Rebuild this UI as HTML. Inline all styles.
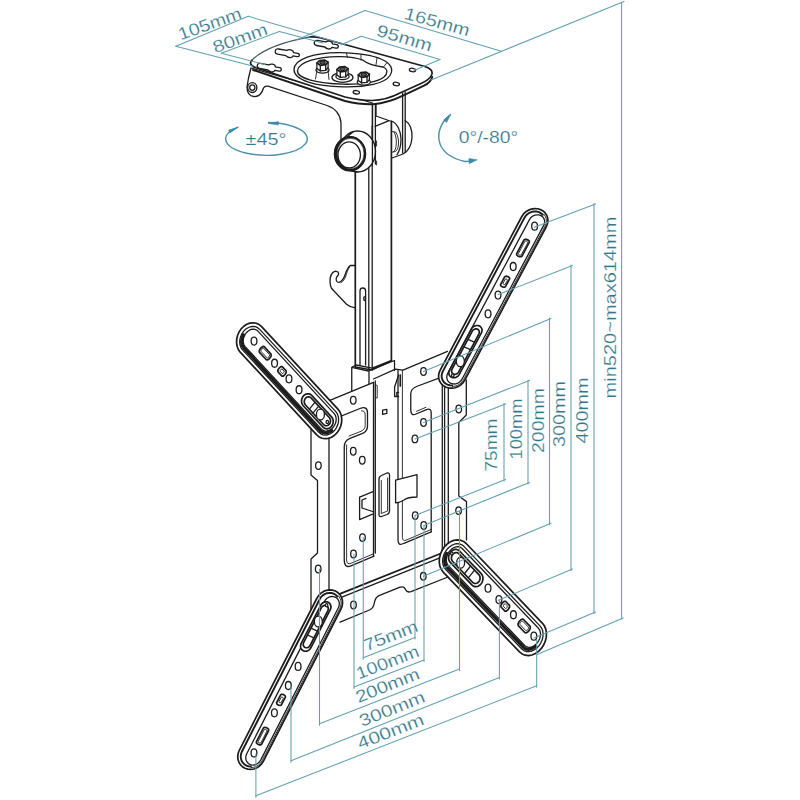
<!DOCTYPE html>
<html><head><meta charset="utf-8"><title>Ceiling mount dimensions</title>
<style>
html,body{margin:0;padding:0;background:#fff;}
body{width:800px;height:800px;overflow:hidden;}
svg{display:block;}
.k{fill:none;stroke:#1c1c1c;stroke-width:1.3;stroke-linejoin:round;stroke-linecap:round;}
.k2{fill:none;stroke:#1c1c1c;stroke-width:1.7;stroke-linejoin:round;stroke-linecap:round;}
.kt{fill:none;stroke:#1c1c1c;stroke-width:0.9;stroke-linejoin:round;stroke-linecap:round;}
.kb{fill:none;stroke:#1c1c1c;stroke-width:2.6;stroke-linejoin:round;stroke-linecap:round;}
.kd{fill:#555;stroke:#1c1c1c;stroke-width:1.1;}
.kb3{fill:none;stroke:#1c1c1c;stroke-width:3.2;stroke-linejoin:round;stroke-linecap:round;}
.kb2{fill:none;stroke:#1c1c1c;stroke-width:1.9;stroke-linejoin:round;stroke-linecap:round;}
.kf{fill:#1c1c1c;stroke:#1c1c1c;stroke-width:0.6;}
.kg{fill:none;stroke:#3d5560;stroke-width:1.1;stroke-linecap:round;}
.wf{fill:#fff;}
.hf{fill:#fff;}
.b{fill:none;stroke:#62a0b1;stroke-width:1.05;stroke-linecap:round;}
.ba{fill:none;stroke:#4a93a8;stroke-width:1.45;stroke-linecap:round;}
.bf{fill:#3f8ba1;stroke:#3f8ba1;stroke-width:0.5;stroke-linejoin:round;}
.t{font-family:"Liberation Sans",sans-serif;fill:#33788a;stroke:#fff;stroke-width:0.2;}
</style></head><body>
<svg width="800" height="800" viewBox="0 0 800 800">
<rect width="800" height="800" fill="#ffffff"/>
<g id="ceiling">
<path class="k" d="M402.6,93 L402.6,153 M405.2,92 L405.2,152.5"/>
<path class="k" d="M405.2,120.5 C410.5,124 412.3,131 412,137.5 C411.5,146 407.5,151.5 403,154 L392,158"/>
<path class="k" d="M391.5,121 C397,123 401,131 401,139 C401,147 398.5,152.5 397,154.6"/>
<path class="kt" d="M392,131.5 L396,132.3 C398,136 398.8,140 398.5,144 C398.3,148 397,151 395,151.6 L392,152.2 M394.2,132 C396,136 396.6,140 396.3,144 C396.1,148 395,150.6 393.6,151.8"/>
<path class="k wf" d="M251,68 L248.5,78 L247,87 Q247,96 254,96.5 Q261,97 263.5,88 Q265,85.5 268,86.2 L327,105.5 Q340,110 341,123 L341,140 L372.5,140 L372.5,103 Z"/>
<ellipse class="k hf" cx="252.3" cy="87.6" rx="4.6" ry="4.9"/>
<ellipse class="k" cx="252.3" cy="87.6" rx="2.6" ry="2.8"/>
<path class="kb2" d="M253,70 L345,101 Q360,104.6 373,104.2 Q388,103.2 404,95.2 L424,85.7 Q431,82.3 432.2,77"/>
<path class="wf" d="M252.2,59.8 Q268,44.6 310,36.9 Q316,36.6 321,38 L424,66.3 Q433.5,69 431.8,74.5 Q430,79.5 421,83.5 L400,93 Q386,100.3 372,100.5 Q360,100.5 345,97 L256,67.8 Q247.5,64.6 252.2,59.8 Z"/>
<path class="k2" d="M310,36.9 Q316,36.6 321,38 L424,66.3 Q433.5,69 431.8,74.5 Q430,79.5 421,83.5 L400,93 Q386,100.3 372,100.5 Q360,100.5 345,97 L256,67.8 Q247.5,64.6 252.2,59.8"/>
<path class="kg" d="M252.2,59.8 Q268,44.6 310,36.9"/>
<path class="k" d="M294,69.5 C294,59.5 314,52.3 340,52.6 C356,53 372,55 381,59 C392,63.5 393.5,70 390,75.5 C385,83.5 366,87.3 343,86.8 C316,86.2 294,80.5 294,69.5 Z"/>
<path class="k" d="M297.5,70.5 C298.5,62.5 317,56.3 340,56.6 C350,56.8 357,57.8 363,60.2 C367,63.5 376,66 383,67 C388.5,69.5 387.5,73.5 384,77 C377,82.5 362,84.5 343,84.2 C318,83.6 296.5,78.5 297.5,70.5 Z"/>
<path class="kt" d="M346.5,53 L347.5,57.5 M361,54.6 L361,60 M377,58 L376,65 M387,62.5 L383.5,67"/>
<ellipse class="k wf" cx="342.5" cy="77.5" rx="10.5" ry="4.8"/>
<ellipse class="k wf" cx="322.5" cy="70" rx="6.6" ry="3.1"/>
<path class="k wf" d="M316.9,63 L316.9,68.5 L320.3,70.9 L325.7,70.3 L328.1,67.5 L328.1,62.2 Z"/>
<path class="k" d="M320.3,65.3 L320.3,70.9 M325.7,64.7 L325.7,70.3"/>
<path class="k2 wf" d="M316.9,63 L320.3,65.3 L325.7,64.7 L328.1,62.2 L324.9,60.1 L319.5,60.6 Z"/>
<ellipse class="kd" cx="322.5" cy="62.6" rx="2.7" ry="1.6"/>
<ellipse class="k wf" cx="363.8" cy="82" rx="6.6" ry="3.1"/>
<path class="k wf" d="M358.2,75 L358.2,80.5 L361.6,82.9 L367,82.3 L369.4,79.5 L369.4,74.2 Z"/>
<path class="k" d="M361.6,77.3 L361.6,82.9 M367,76.7 L367,82.3"/>
<path class="k2 wf" d="M358.2,75 L361.6,77.3 L367,76.7 L369.4,74.2 L366.2,72.1 L360.8,72.6 Z"/>
<ellipse class="kd" cx="363.8" cy="74.6" rx="2.7" ry="1.6"/>
<ellipse class="k wf" cx="342.5" cy="76.5" rx="6.6" ry="3.1"/>
<path class="k wf" d="M336.9,69.5 L336.9,75 L340.3,77.4 L345.7,76.8 L348.1,74 L348.1,68.7 Z"/>
<path class="k" d="M340.3,71.8 L340.3,77.4 M345.7,71.2 L345.7,76.8"/>
<path class="k2 wf" d="M336.9,69.5 L340.3,71.8 L345.7,71.2 L348.1,68.7 L344.9,66.6 L339.5,67.1 Z"/>
<ellipse class="kd" cx="342.5" cy="69.1" rx="2.7" ry="1.6"/>
<path class="kt" d="M317,70 L315.5,79 M328,70 L329,79.5"/>
<g transform="translate(326.3 44.6) rotate(10)"><path class="k" d="M-9.5,-2.6 L-1,-2.6 Q0.5,-3.9 2.6,-3.9 Q5.6,-3.9 6,-1.7 L10.2,-1.7 Q12.2,-1.7 12.2,0 Q12.2,1.7 10.2,1.7 L6,1.7 Q5.6,3.9 2.6,3.9 Q0.5,3.9 -1,2.6 L-9.5,2.6 Q-12.2,2.6 -12.2,0 Q-12.2,-2.6 -9.5,-2.6 Z"/></g>
<g transform="translate(287.3 53.2) rotate(10)"><path class="k" d="M-9.5,-2.6 L-1,-2.6 Q0.5,-3.9 2.6,-3.9 Q5.6,-3.9 6,-1.7 L10.2,-1.7 Q12.2,-1.7 12.2,0 Q12.2,1.7 10.2,1.7 L6,1.7 Q5.6,3.9 2.6,3.9 Q0.5,3.9 -1,2.6 L-9.5,2.6 Q-12.2,2.6 -12.2,0 Q-12.2,-2.6 -9.5,-2.6 Z"/></g>
<g transform="translate(269.3 67.6) rotate(10)"><path class="k" d="M-9.5,-2.6 L-1,-2.6 Q0.5,-3.9 2.6,-3.9 Q5.6,-3.9 6,-1.7 L10.2,-1.7 Q12.2,-1.7 12.2,0 Q12.2,1.7 10.2,1.7 L6,1.7 Q5.6,3.9 2.6,3.9 Q0.5,3.9 -1,2.6 L-9.5,2.6 Q-12.2,2.6 -12.2,0 Q-12.2,-2.6 -9.5,-2.6 Z"/></g>
<ellipse class="k" cx="412.5" cy="70" rx="3.2" ry="1.7" transform="rotate(8 412.5 70)"/>
<ellipse class="k" cx="396.3" cy="84" rx="3.2" ry="1.7" transform="rotate(8 396.3 84)"/>
<ellipse class="k" cx="356.3" cy="92.3" rx="3.2" ry="1.7" transform="rotate(8 356.3 92.3)"/>
</g>
<g id="column">
<path class="k" d="M368.8,166 L368.8,369.5 M372.2,126 L372.2,370"/>
<path class="k" d="M376,116 L391.5,121.5 M375,126.3 L388.5,120.8 M376,116 L376,104"/>
<path class="k wf" d="M355.3,265.5 L350.2,265.5 C347.3,267.5 346.2,271.5 345,275 C343.8,278.5 342,281.5 339,282.4 C337,282.8 335.8,280.5 336.3,278 C336.8,276.3 338.8,275.5 338.6,273.2 C338.2,270.8 334.8,270.6 332.6,272.8 C330.2,275.4 329.6,281 330.6,286 C331,288 332,289 333.3,290.3 L346.5,304.2 C348.5,306 351.5,307.3 355.3,307.8"/>
<path class="kt" d="M349.8,266.8 C347.6,269.5 347,272.5 345.9,275.8 C344.8,279 343.4,281.3 341,282.6"/>
<path class="k" d="M360,365 L360,291 Q360,288 362.8,288 Q365.6,288 365.6,291 L365.6,365"/>
<ellipse class="k" cx="364.6" cy="298.6" rx="0.9" ry="2"/>
<path class="k2" d="M355.3,172 L355.3,367 M391.4,121.5 L391.4,361"/>
<path class="k" d="M355.3,367 L372.2,370 L391.5,361"/>
</g>
<g id="knob">
<ellipse class="k wf" cx="357.6" cy="151.5" rx="17.9" ry="20.5"/>
<path class="k" d="M347.5,136.6 L353.5,131.6 M352,170.9 L357,171.9"/>
<ellipse class="k wf" cx="350" cy="153.75" rx="15.6" ry="17.2"/>
<path class="kf" fill-rule="evenodd" d="M334.4,153.75 a15.6,17.2 0 1 0 31.2,0 a15.6,17.2 0 1 0 -31.2,0 Z M337.2,153.5 a13.4,15.2 0 1 0 26.8,0 a13.4,15.2 0 1 0 -26.8,0 Z"/>
<ellipse class="k" cx="349.2" cy="154.9" rx="11.2" ry="13"/>
<path class="k" d="M372.4,104 L372.4,166 M375.4,104.5 L375.4,164"/>
<path class="kt" d="M375.4,140 L376.6,141 L376.6,146 L375.4,147 M375.4,160 L376.6,161 L376.6,165"/>
</g>
<g id="plate">
<path class="k" d="M351.75,391.3 L351.75,367.3 L356.2,365 M351.75,367.3 L368.5,371 L394.5,360.5 L394.5,370.5 M369,371 L369,384 M356.2,365 L372.2,368.2 L391.5,360.3"/>
<path class="k" d="M325,402.4 L373.5,382.3"/>
<path class="k" d="M373.5,379 L395.5,369.2 L403,370.2 L447.5,351.3"/>
<path class="k" d="M311,426 L311,475 L317.5,480.5 L317.5,553 L311,559 L311,612"/>
<path class="k" d="M329,424 L329,596"/>
<path class="k" d="M333,419.3 L360,408.5 Q367.5,405.5 367.5,413 L367.5,426 Q367.5,431.6 362,433.7 L350,438.4 Q344.25,440.7 344.25,447 L344.25,560 Q344.3,568.6 351,565.8 L374,556.2"/>
<path class="kt" d="M361.5,410.8 Q365.2,410.5 365.2,415 L365.2,425.5 Q365.2,429.5 361,431.3 L349,436 M346.6,445 L346.6,560 Q346.8,565 351,563.3 L373.5,553.8"/>
<path class="k" d="M373.5,382.3 L373.5,556.2 M375.3,381 L375.3,553"/>
<path class="kt" d="M375.8,385 L377.2,385.4 L377.2,398 L375.8,398"/>
<polygon class="k" points="382.6,410.2 386.8,409.3 386.8,413.4 382.6,414.3"/>
<path class="k" d="M379,479 Q379,476.5 381.5,475.5 L387,473 Q389.5,472.3 389.5,475 L389.5,511 Q389.5,513.5 387,514.5 L381.5,516.5 Q379,517 379,514.5 Z"/>
<path class="kt" d="M381.3,480.5 L381.3,513.5 L387.6,511 L387.6,478"/>
<path class="k" d="M359.6,497.2 L373,491.6 M359.6,497.2 L359.6,519.6 L372.5,514.2 M362,508 L362,500 L366,498.4 M362,508 L372.5,511.5"/>
<path class="k" d="M398,370 L398,540 Q398,546.5 404,543.3 L431.2,531.8"/>
<path class="kt" d="M402.4,370.3 L402.4,537.5 Q402.6,541.5 406,540.2 L431,529.5"/>
<path class="k" d="M398.6,375 L394.6,387 L394.6,396.5 L398.6,396.5 M396.8,396.5 L396.8,392.3 L398.6,392.3"/>
<path class="k2" d="M400.3,375 L400.3,386"/>
<path class="k wf" d="M395.6,480.2 L417,474.6 L417,497 Q408,497 404,500 Q400,502.5 395.6,502.8 Z"/>
<path class="k" d="M442.3,376.8 L416.5,386.5 Q410.75,388.7 410.75,394 L410.75,410 Q410.9,416.3 416,414 L426.5,409.6 Q431.2,407.8 431.2,413 L431.2,531.8"/>
<path class="kt" d="M416.5,411.3 L426,407.3"/>
<path class="k" d="M442.3,372 L442.3,556 M444.6,374 L444.6,555 M448.3,378 L448.3,552"/>
<path class="k" d="M466.3,380 L466.3,415 L458.8,422.5 L458.8,496 L466.5,501.6 L466.5,540"/>
<path class="k2" d="M338,594.6 L442,553"/>
<path class="k" d="M340,597.8 L442.3,556.8"/>
<path class="k" d="M340,622.2 L369.5,610 Q373.5,608.3 374.3,603 Q375.3,597.2 379,595.6 L400,587.2 Q404,585.8 405.5,589.5 Q407,593 411,591.6 L448,577"/>
<ellipse class="k hf" cx="353.25" cy="400.25" rx="2.8" ry="3.8"/>
<ellipse class="k hf" cx="423.5" cy="371.5" rx="2.8" ry="3.8"/>
<ellipse class="k hf" cx="318.4" cy="465.6" rx="2.8" ry="3.8"/>
<ellipse class="k hf" cx="318.2" cy="569" rx="2.8" ry="3.8"/>
<ellipse class="k hf" cx="458.75" cy="409" rx="2.8" ry="3.8"/>
<ellipse class="k hf" cx="458.6" cy="510.6" rx="2.8" ry="3.8"/>
<ellipse class="k hf" cx="353.25" cy="451.25" rx="2.8" ry="3.8"/>
<ellipse class="k hf" cx="362.25" cy="460.25" rx="2.8" ry="3.8"/>
<ellipse class="k hf" cx="362.5" cy="537.6" rx="2.8" ry="3.8"/>
<ellipse class="k hf" cx="353.5" cy="554" rx="2.8" ry="3.8"/>
<ellipse class="k hf" cx="423.5" cy="422.5" rx="2.8" ry="3.8"/>
<ellipse class="k hf" cx="414.9" cy="438.9" rx="2.8" ry="3.8"/>
<ellipse class="k hf" cx="415.2" cy="515.6" rx="2.8" ry="3.8"/>
<ellipse class="k hf" cx="423.75" cy="525.5" rx="2.8" ry="3.8"/>
<ellipse class="k hf" cx="353.5" cy="605" rx="2.8" ry="3.8"/>
<ellipse class="k hf" cx="423.3" cy="576.3" rx="2.8" ry="3.8"/>
</g>
<g id="arms">
<polygon class="k2 wf" points="261.6,326.6 259.14,324.55 256.28,323.26 253.15,322.78 249.91,323.13 246.73,324.31 243.76,326.25 241.15,328.85 239.04,331.99 237.53,335.51 236.69,339.22 236.57,342.95 237.18,346.5 238.47,349.71 240.4,352.4 316.7,434.9 319.16,436.95 322.02,438.24 325.15,438.72 328.39,438.37 331.57,437.19 334.54,435.25 337.15,432.65 339.26,429.51 340.77,425.99 341.61,422.28 341.73,418.55 341.12,415 339.83,411.79 337.9,409.1"/>
<polygon class="k" points="259.48,329.18 257.6,327.64 255.39,326.69 252.96,326.39 250.44,326.74 247.94,327.73 245.59,329.32 243.52,331.41 241.82,333.91 240.58,336.69 239.86,339.61 239.7,342.52 240.11,345.29 241.07,347.76 242.52,349.82 318.82,432.32 320.7,433.86 322.91,434.81 325.34,435.11 327.86,434.76 330.36,433.77 332.71,432.18 334.78,430.09 336.48,427.59 337.72,424.81 338.44,421.89 338.6,418.98 338.19,416.21 337.23,413.74 335.78,411.68"/>
<polyline class="kb3" points="243.47,334.99 242.42,337.3 241.8,339.73 241.64,342.14 241.95,344.42 242.72,346.46 243.9,348.14 320.2,430.64 321.73,431.89 323.55,432.65 325.55,432.87 327.64,432.55 329.72,431.7 331.67,430.36"/>
<polygon class="k" points="257.89,331.12 256.53,330.01 254.91,329.34 253.13,329.15 251.26,329.45 249.41,330.22 247.67,331.42 246.12,333 244.84,334.87 243.89,336.94 243.33,339.1 243.18,341.26 243.45,343.29 244.12,345.1 245.17,346.6 321.47,429.1 322.83,430.2 324.45,430.87 326.23,431.06 328.1,430.76 329.95,429.99 331.69,428.79 333.24,427.21 334.52,425.34 335.47,423.27 336.03,421.11 336.18,418.95 335.91,416.92 335.24,415.11 334.19,413.62"/>
<ellipse class="k hf" cx="254.03" cy="341.07" rx="2.9" ry="4"/>
<ellipse class="k hf" cx="274.56" cy="363.26" rx="2.9" ry="4"/>
<ellipse class="k hf" cx="288.98" cy="378.86" rx="2.9" ry="4"/>
<ellipse class="k hf" cx="299.05" cy="389.75" rx="2.9" ry="4"/>
<polygon class="k2 hf" points="264.15,346.65 263.01,346.44 261.41,347.4 259.97,349.15 259.23,351.03 259.48,352.32 266.35,359.75 267.49,359.96 269.08,359 270.52,357.25 271.26,355.37 271.01,354.07"/>
<polygon class="kt" points="263.36,348.48 262.67,348.52 261.7,349.37 261.02,350.53 261.03,351.32 267.13,357.92 267.82,357.88 268.79,357.03 269.47,355.87 269.47,355.08"/>
<polygon class="k2 hf" points="282.17,366.62 280.85,366.63 279.06,368.14 277.85,370.28 277.93,371.78 281.9,376.07 283.21,376.07 285,374.56 286.21,372.42 286.14,370.91"/>
<polygon class="kt" points="281.74,369.08 281.01,369.27 280.17,370.31 280.04,371.14 282.33,373.62 283.05,373.43 283.9,372.39 284.03,371.56"/>
<polygon class="k2 hf" points="311.7,395.39 310.49,394.41 309.07,393.85 307.54,393.74 306,394.1 304.57,394.9 303.33,396.08 302.37,397.57 301.76,399.26 301.54,401.04 301.72,402.78 302.3,404.38 303.22,405.71 323.06,427.16 324.27,428.14 325.7,428.7 327.23,428.81 328.76,428.45 330.2,427.65 331.44,426.47 332.39,424.98 333,423.29 333.22,421.51 333.04,419.77 332.47,418.17 331.54,416.84"/>
<polygon class="k2" points="311.24,398.06 310.38,397.35 309.38,396.93 308.31,396.82 307.25,397.03 306.27,397.55 305.42,398.35 304.78,399.36 304.39,400.52 304.27,401.74 304.42,402.96 304.85,404.08 305.52,405.02 323.52,424.49 324.38,425.2 325.38,425.62 326.45,425.73 327.51,425.52 328.5,425 329.34,424.2 329.98,423.19 330.37,422.03 330.5,420.81 330.34,419.59 329.91,418.47 329.25,417.53"/>
<line class="k" x1="318.66" y1="406.08" x2="312.93" y2="413.04"/>
<line class="k" x1="315.09" y1="402.21" x2="309.36" y2="409.18"/>
<ellipse class="k hf" cx="320.43" cy="414.57" rx="4" ry="5.4"/>
<ellipse class="k hf" cx="327.3" cy="422" rx="1.2" ry="1.6"/>
<polygon class="k2 wf" points="546.4,226.5 547.5,223.72 547.93,220.83 547.67,217.98 546.72,215.3 545.14,212.93 543.01,210.99 540.43,209.58 537.54,208.76 534.47,208.59 531.38,209.06 528.43,210.16 525.77,211.82 523.52,213.97 521.8,216.5 440.1,370.3 439,373.08 438.57,375.97 438.83,378.82 439.78,381.5 441.36,383.87 443.49,385.81 446.07,387.22 448.96,388.04 452.03,388.21 455.12,387.74 458.07,386.64 460.73,384.98 462.98,382.83 464.7,380.3"/>
<polyline class="kb2" points="542.71,214.81 541.05,213.3 539.04,212.2 536.78,211.57 534.39,211.43 531.98,211.8 529.68,212.65 527.6,213.95 525.85,215.63 524.51,217.6 442.81,371.4 441.95,373.57 441.61,375.82 441.82,378.05 442.56,380.14 443.79,381.99 445.45,383.5 447.46,384.6 449.72,385.23 452.11,385.37"/>
<polygon class="k" points="543.69,225.4 544.36,223.74 544.64,222.01 544.51,220.31 543.98,218.72 543.08,217.31 541.85,216.17 540.36,215.35 538.68,214.88 536.89,214.8 535.08,215.1 533.35,215.77 531.78,216.78 530.45,218.08 529.43,219.6 447.73,373.4 447.06,375.06 446.78,376.79 446.91,378.49 447.44,380.08 448.34,381.49 449.57,382.63 451.06,383.45 452.74,383.92 454.53,384 456.34,383.7 458.07,383.03 459.64,382.02 460.97,380.72 461.99,379.2"/>
<polyline class="kt" points="452.3,386.49 455.04,386.12 457.66,385.21 460.01,383.8 461.98,381.97 463.47,379.8 545.17,226 546.1,223.61 546.44,221.11 546.15,218.63 545.26,216.29 543.81,214.21"/>
<ellipse class="k hf" cx="534.6" cy="226.19" rx="2.9" ry="4"/>
<ellipse class="k hf" cx="513.19" cy="266.49" rx="2.9" ry="4"/>
<ellipse class="k hf" cx="498" cy="295.09" rx="2.9" ry="4"/>
<ellipse class="k hf" cx="488.03" cy="313.86" rx="2.9" ry="4"/>
<polygon class="k2 hf" points="529.38,242.21 529.31,241.16 528.23,240.09 526.56,239.41 524.93,239.38 523.97,240.01 516.62,253.85 516.69,254.9 517.76,255.97 519.43,256.65 521.06,256.68 522.03,256.05"/>
<polygon class="kt" points="527.62,242.43 527.45,241.85 526.58,241.28 525.53,241.07 524.91,241.33 518.38,253.63 518.55,254.22 519.41,254.78 520.46,254.99 521.08,254.73"/>
<polygon class="k2 hf" points="509.69,278.71 509.42,277.58 507.86,276.52 505.94,276.16 504.77,276.71 500.52,284.71 500.79,285.85 502.35,286.9 504.27,287.26 505.44,286.71"/>
<polygon class="kt" points="507.31,279.81 507.01,279.24 506.03,278.84 505.35,279.01 502.9,283.62 503.2,284.18 504.18,284.58 504.86,284.42"/>
<polygon class="k2 hf" points="481.38,332.85 481.9,331.48 482.05,330.08 481.82,328.72 481.23,327.51 480.3,326.53 479.12,325.84 477.76,325.49 476.31,325.51 474.86,325.89 473.53,326.61 472.4,327.62 471.54,328.85 449.48,370.37 448.96,371.74 448.81,373.15 449.04,374.5 449.64,375.71 450.56,376.69 451.74,377.38 453.11,377.73 454.56,377.71 456,377.33 457.33,376.61 458.47,375.6 459.32,374.37"/>
<polygon class="k2" points="478.8,334.04 479.18,333.07 479.31,332.07 479.17,331.12 478.79,330.27 478.18,329.59 477.38,329.12 476.46,328.89 475.47,328.92 474.48,329.21 473.56,329.74 472.77,330.46 472.16,331.34 452.06,369.18 451.68,370.15 451.56,371.15 451.69,372.1 452.08,372.95 452.69,373.63 453.48,374.11 454.41,374.33 455.4,374.3 456.39,374.01 457.31,373.49 458.1,372.76 458.7,371.88"/>
<line class="k" x1="470.52" y1="349.64" x2="463.88" y2="346.94"/>
<line class="k" x1="474.49" y1="342.16" x2="467.85" y2="339.46"/>
<ellipse class="k hf" cx="460.33" cy="361.21" rx="4" ry="5.4"/>
<ellipse class="k hf" cx="452.77" cy="375.45" rx="1.2" ry="1.6"/>
<polygon class="k2 wf" points="542.5,623.3 544.52,626.07 545.86,629.42 546.45,633.18 546.27,637.16 545.33,641.16 543.67,644.99 541.37,648.44 538.55,651.35 535.35,653.57 531.93,654.99 528.47,655.54 525.14,655.19 522.1,653.95 519.5,651.9 443.2,572.1 441.18,569.33 439.84,565.98 439.25,562.22 439.43,558.24 440.37,554.24 442.03,550.41 444.33,546.96 447.15,544.05 450.35,541.83 453.77,540.41 457.23,539.86 460.56,540.21 463.6,541.45 466.2,543.5"/>
<polygon class="k" points="540.2,626.16 541.72,628.28 542.71,630.87 543.1,633.79 542.9,636.91 542.09,640.06 540.73,643.09 538.88,645.84 536.63,648.18 534.11,649.99 531.42,651.17 528.72,651.68 526.13,651.48 523.78,650.59 521.8,649.04 445.5,569.24 443.98,567.12 442.99,564.53 442.6,561.61 442.8,558.49 443.61,555.34 444.97,552.31 446.82,549.56 449.07,547.22 451.59,545.41 454.28,544.23 456.98,543.72 459.57,543.92 461.92,544.81 463.9,546.36"/>
<polyline class="kb3" points="535.55,646.29 533.45,647.81 531.22,648.83 528.98,649.28 526.85,649.15 524.92,648.44 523.29,647.18 447,567.38 445.76,565.65 444.97,563.52 444.67,561.1 444.87,558.52 445.57,555.9 446.72,553.38"/>
<polygon class="k" points="538.48,628.3 539.57,629.85 540.27,631.74 540.52,633.89 540.33,636.2 539.71,638.53 538.67,640.79 537.28,642.85 535.6,644.61 533.72,645.98 531.73,646.9 529.74,647.31 527.83,647.2 526.12,646.58 524.68,645.47 448.38,565.66 447.28,564.12 446.58,562.23 446.33,560.08 446.52,557.77 447.14,555.44 448.18,553.18 449.57,551.12 451.25,549.36 453.13,547.99 455.12,547.07 457.11,546.66 459.02,546.77 460.73,547.39 462.17,548.5"/>
<ellipse class="k hf" cx="533.87" cy="636.13" rx="2.9" ry="4"/>
<ellipse class="k hf" cx="513.42" cy="614.74" rx="2.9" ry="4"/>
<ellipse class="k hf" cx="498.89" cy="599.54" rx="2.9" ry="4"/>
<ellipse class="k hf" cx="488.01" cy="588.17" rx="2.9" ry="4"/>
<polygon class="k2 hf" points="530.14,626.44 530.39,627.8 529.58,629.85 528.02,631.79 526.3,632.89 525.08,632.73 518.22,625.55 517.97,624.18 518.78,622.14 520.35,620.19 522.06,619.09 523.28,619.25"/>
<polygon class="kt" points="528.5,627.61 528.49,628.46 527.75,629.73 526.7,630.68 525.97,630.76 519.86,624.37 519.87,623.53 520.61,622.26 521.66,621.3 522.39,621.23"/>
<polygon class="k2 hf" points="509.54,605.42 509.6,607.02 508.28,609.36 506.35,611.07 504.94,611.14 500.97,606.99 500.91,605.38 502.24,603.04 504.17,601.34 505.57,601.27"/>
<polygon class="kt" points="507.32,606.25 507.18,607.16 506.26,608.3 505.48,608.54 503.19,606.15 503.34,605.25 504.26,604.1 505.03,603.86"/>
<polygon class="k2 hf" points="481.24,573.71 482.21,575.08 482.8,576.75 482.97,578.6 482.71,580.51 482.04,582.35 480.99,583.98 479.65,585.31 478.11,586.23 476.46,586.69 474.83,586.66 473.32,586.13 472.04,585.15 450.29,562.41 449.32,561.03 448.73,559.36 448.56,557.51 448.82,555.6 449.5,553.77 450.54,552.13 451.88,550.81 453.42,549.88 455.07,549.42 456.7,549.46 458.21,549.98 459.49,550.97"/>
<polygon class="k2" points="478.83,574.61 479.53,575.58 479.97,576.75 480.12,578.04 479.97,579.36 479.53,580.61 478.83,581.72 477.92,582.61 476.86,583.22 475.73,583.5 474.59,583.44 473.53,583.04 472.62,582.33 452.7,561.5 452.01,560.53 451.57,559.36 451.41,558.07 451.56,556.76 452,555.5 452.7,554.39 453.61,553.5 454.67,552.9 455.81,552.61 456.94,552.67 458,553.07 458.91,553.78"/>
<line class="k" x1="470.61" y1="566.02" x2="464.4" y2="573.74"/>
<line class="k" x1="474.53" y1="570.11" x2="468.32" y2="577.83"/>
<ellipse class="k hf" cx="460.62" cy="562.67" rx="4" ry="5.4"/>
<ellipse class="k hf" cx="451.84" cy="553.49" rx="1.2" ry="1.6"/>
<polygon class="k2 wf" points="263.3,761.3 261.58,763.94 259.35,766.17 256.72,767.88 253.81,768.98 250.77,769.42 247.77,769.18 244.94,768.27 242.43,766.73 240.36,764.65 238.84,762.12 237.95,759.28 237.73,756.26 238.19,753.21 239.3,750.3 317,598 318.72,595.36 320.95,593.13 323.58,591.42 326.49,590.32 329.53,589.88 332.53,590.12 335.36,591.03 337.87,592.57 339.94,594.65 341.46,597.18 342.35,600.02 342.57,603.04 342.11,606.09 341,609"/>
<polyline class="kb2" points="250.89,766.43 248.54,766.24 246.34,765.53 244.38,764.33 242.77,762.7 241.58,760.73 240.89,758.51 240.71,756.16 241.07,753.78 241.94,751.51 319.64,599.21 320.98,597.15 322.72,595.41 324.78,594.08 327.04,593.22 329.41,592.87 331.76,593.06 333.96,593.77 335.92,594.97 337.53,596.6"/>
<polygon class="k" points="260.66,760.09 259.64,761.68 258.31,763.02 256.76,764.06 255.05,764.74 253.28,765.03 251.53,764.9 249.88,764.38 248.43,763.49 247.24,762.26 246.38,760.76 245.88,759.07 245.77,757.27 246.07,755.45 246.74,753.71 324.44,601.41 325.46,599.82 326.79,598.48 328.34,597.44 330.05,596.76 331.82,596.47 333.57,596.6 335.22,597.12 336.67,598.01 337.86,599.24 338.72,600.74 339.22,602.43 339.33,604.23 339.03,606.05 338.36,607.79"/>
<polyline class="kt" points="338.62,595.98 340.01,598.2 340.86,600.68 341.1,603.31 340.75,605.94 339.8,608.45 262.1,760.75 260.61,763.01 258.66,764.91 256.33,766.36 253.76,767.27 251.06,767.61"/>
<ellipse class="k hf" cx="253.97" cy="752.89" rx="2.9" ry="4"/>
<ellipse class="k hf" cx="274.4" cy="712.83" rx="2.9" ry="4"/>
<ellipse class="k hf" cx="288.35" cy="685.5" rx="2.9" ry="4"/>
<ellipse class="k hf" cx="298.1" cy="666.38" rx="2.9" ry="4"/>
<polygon class="k2 hf" points="261.66,744.2 260.71,744.85 259.11,744.79 257.48,744.04 256.44,742.89 256.38,741.78 263.37,728.07 264.33,727.42 265.92,727.49 267.55,728.23 268.6,729.38 268.65,730.49"/>
<polygon class="kt" points="260.73,742.83 260.12,743.1 259.09,742.85 258.25,742.24 258.09,741.62 264.3,729.44 264.92,729.18 265.94,729.42 266.78,730.03 266.94,730.65"/>
<polygon class="k2 hf" points="281.39,704.95 280.24,705.51 278.35,705.1 276.84,703.95 276.59,702.75 280.63,694.83 281.78,694.27 283.67,694.68 285.18,695.83 285.43,697.03"/>
<polygon class="kt" points="280.8,702.61 280.13,702.77 279.17,702.33 278.88,701.73 281.21,697.16 281.89,697.01 282.85,697.45 283.13,698.04"/>
<polygon class="k2 hf" points="310.84,647.79 309.99,649.07 308.86,650.12 307.55,650.85 306.13,651.23 304.71,651.22 303.37,650.83 302.22,650.08 301.33,649.03 300.76,647.74 300.55,646.31 300.72,644.82 301.24,643.39 320.67,605.32 321.52,604.04 322.65,602.99 323.96,602.26 325.38,601.88 326.81,601.89 328.14,602.28 329.29,603.03 330.18,604.08 330.75,605.37 330.96,606.81 330.8,608.29 330.27,609.72"/>
<polygon class="k2" points="310.22,645.25 309.61,646.17 308.83,646.92 307.92,647.46 306.94,647.75 305.97,647.76 305.07,647.51 304.29,647 303.7,646.26 303.34,645.36 303.22,644.35 303.35,643.3 303.74,642.28 321.3,607.86 321.9,606.94 322.69,606.19 323.6,605.65 324.57,605.36 325.54,605.35 326.45,605.61 327.22,606.12 327.81,606.85 328.18,607.75 328.3,608.76 328.16,609.81 327.78,610.83"/>
<line class="k" x1="317.44" y1="631.09" x2="310.96" y2="628.12"/>
<line class="k" x1="313.95" y1="637.94" x2="307.47" y2="634.97"/>
<ellipse class="k hf" cx="318.32" cy="621.53" rx="4" ry="5.4"/>
<ellipse class="k hf" cx="326.63" cy="605.23" rx="1.2" ry="1.6"/>
</g>
<g id="dims">
<line class="b" x1="175.8" y1="46.2" x2="248.3" y2="16.3"/>
<line class="b" x1="175.8" y1="46.2" x2="252.5" y2="66"/>
<line class="b" x1="248.3" y1="16.3" x2="345" y2="44.4"/>
<line class="b" x1="221.3" y1="53.3" x2="279.4" y2="31.4"/>
<line class="b" x1="221.3" y1="53.3" x2="265" y2="64.5"/>
<line class="b" x1="279.4" y1="31.4" x2="323" y2="42.9"/>
<line class="b" x1="365" y1="10.5" x2="501.3" y2="51.3"/>
<line class="b" x1="365" y1="10.5" x2="297" y2="39.8"/>
<line class="b" x1="431" y1="80" x2="624" y2="1.5"/>
<line class="b" x1="361.3" y1="36.3" x2="440" y2="59.5"/>
<line class="b" x1="361.3" y1="36.3" x2="341" y2="44.8"/>
<line class="b" x1="440" y1="59.5" x2="414" y2="70.5"/>
<line class="b" x1="504" y1="403.5" x2="504" y2="481"/>
<line class="b" x1="415" y1="439" x2="505.5" y2="403.9"/>
<line class="b" x1="415" y1="515.5" x2="505.5" y2="479.4"/>
<line class="b" x1="528" y1="380" x2="528" y2="484"/>
<line class="b" x1="423.6" y1="422.5" x2="529.5" y2="380.4"/>
<line class="b" x1="423.8" y1="525.4" x2="529.5" y2="482.4"/>
<line class="b" x1="549.5" y1="318" x2="549.5" y2="524.8"/>
<line class="b" x1="423.5" y1="371.5" x2="551" y2="318.4"/>
<line class="b" x1="423.5" y1="576.3" x2="551" y2="523.2"/>
<line class="b" x1="571" y1="265" x2="571" y2="570.5"/>
<line class="b" x1="498.3" y1="294.5" x2="572.5" y2="265.4"/>
<line class="b" x1="498.3" y1="600.3" x2="572.5" y2="568.9"/>
<line class="b" x1="594" y1="203.5" x2="594" y2="613.5"/>
<line class="b" x1="534.3" y1="227.3" x2="595.5" y2="203.9"/>
<line class="b" x1="534" y1="638" x2="595.5" y2="611.9"/>
<line class="b" x1="621.6" y1="2.3" x2="621.6" y2="619"/>
<line class="b" x1="537" y1="654.5" x2="623.2" y2="618"/>
<line class="b" x1="363.25" y1="657.8" x2="415" y2="637.5"/>
<line class="b" x1="363.25" y1="537.6" x2="363.25" y2="659.3"/>
<line class="b" x1="415" y1="515.6" x2="415" y2="639"/>
<line class="b" x1="354" y1="687" x2="424" y2="660"/>
<line class="b" x1="354" y1="554" x2="354" y2="688.5"/>
<line class="b" x1="424" y1="525.5" x2="424" y2="661.5"/>
<line class="b" x1="319.5" y1="723.8" x2="459.5" y2="669"/>
<line class="b" x1="319.5" y1="569" x2="319.5" y2="725.3"/>
<line class="b" x1="459.5" y1="510.6" x2="459.5" y2="670.5"/>
<line class="b" x1="291" y1="760.8" x2="499.4" y2="677.4"/>
<line class="b" x1="291" y1="686" x2="291" y2="762.3"/>
<line class="b" x1="499.4" y1="600.3" x2="499.4" y2="678.9"/>
<line class="b" x1="255.9" y1="795.8" x2="536.7" y2="685.8"/>
<line class="b" x1="255.9" y1="754" x2="255.9" y2="797.3"/>
<line class="b" x1="536.7" y1="640" x2="536.7" y2="687.3"/>
<path class="ba" d="M237.6,127.3 A40.8,16.4 0 1 0 268.6,122.5"/>
<path class="bf" d="M238.6,127 L229.9,133 L228.5,130 Z"/>
<path class="bf" d="M267.8,123.4 L278.3,125.1 L278.3,121.5 Z"/>
<path class="ba" d="M450.3,114.9 C434.5,127 431,153.5 465,161.5 L470,161.2"/>
<path class="bf" d="M450.9,114 L446.6,122.5 L443.6,120.1 Z"/>
<path class="bf" d="M477.4,159.8 L468.8,158.5 L469.2,163.8 Z"/>
<text class="t" font-size="17" text-anchor="middle" textLength="66" lengthAdjust="spacingAndGlyphs" transform="translate(211.66 29.29) rotate(-19.5)">105mm</text>
<text class="t" font-size="17" text-anchor="middle" textLength="57" lengthAdjust="spacingAndGlyphs" transform="translate(242.13 43.57) rotate(-20)">80mm</text>
<text class="t" font-size="17" text-anchor="middle" textLength="67" lengthAdjust="spacingAndGlyphs" transform="translate(435.57 27.45) rotate(15.5)">165mm</text>
<text class="t" font-size="17" text-anchor="middle" textLength="57" lengthAdjust="spacingAndGlyphs" transform="translate(402.86 43.55) rotate(16.43)">95mm</text>
<text class="t" font-size="17" text-anchor="middle" textLength="57" lengthAdjust="spacingAndGlyphs" transform="translate(392.75 641.07) rotate(-21.42)">75mm</text>
<text class="t" font-size="17" text-anchor="middle" textLength="66" lengthAdjust="spacingAndGlyphs" transform="translate(389.63 667.68) rotate(-21.09)">100mm</text>
<text class="t" font-size="17" text-anchor="middle" textLength="67" lengthAdjust="spacingAndGlyphs" transform="translate(389.6 690.74) rotate(-21.4)">200mm</text>
<text class="t" font-size="17" text-anchor="middle" textLength="69" lengthAdjust="spacingAndGlyphs" transform="translate(394.14 714.14) rotate(-21.81)">300mm</text>
<text class="t" font-size="17" text-anchor="middle" textLength="70" lengthAdjust="spacingAndGlyphs" transform="translate(392.68 736.85) rotate(-21.39)">400mm</text>
<text class="t" font-size="17" text-anchor="middle" textLength="53" lengthAdjust="spacingAndGlyphs" transform="translate(497.4 445) rotate(-90)">75mm</text>
<text class="t" font-size="17" text-anchor="middle" textLength="61" lengthAdjust="spacingAndGlyphs" transform="translate(522 429) rotate(-90)">100mm</text>
<text class="t" font-size="17" text-anchor="middle" textLength="65" lengthAdjust="spacingAndGlyphs" transform="translate(543.5 420.5) rotate(-90)">200mm</text>
<text class="t" font-size="17" text-anchor="middle" textLength="66" lengthAdjust="spacingAndGlyphs" transform="translate(564.8 414) rotate(-90)">300mm</text>
<text class="t" font-size="17" text-anchor="middle" textLength="66" lengthAdjust="spacingAndGlyphs" transform="translate(588 410.5) rotate(-90)">400mm</text>
<text class="t" font-size="17" text-anchor="middle" textLength="182" lengthAdjust="spacingAndGlyphs" transform="translate(615.8 307.5) rotate(-90)">min520~max614mm</text>
<text class="t" font-size="17" text-anchor="middle" textLength="41" lengthAdjust="spacingAndGlyphs" transform="translate(266 145.2) rotate(0)">±45°</text>
<text class="t" font-size="17" text-anchor="middle" textLength="59.5" lengthAdjust="spacingAndGlyphs" transform="translate(488.5 143.3) rotate(0)">0°/-80°</text>
</g>
</svg>
</body></html>
